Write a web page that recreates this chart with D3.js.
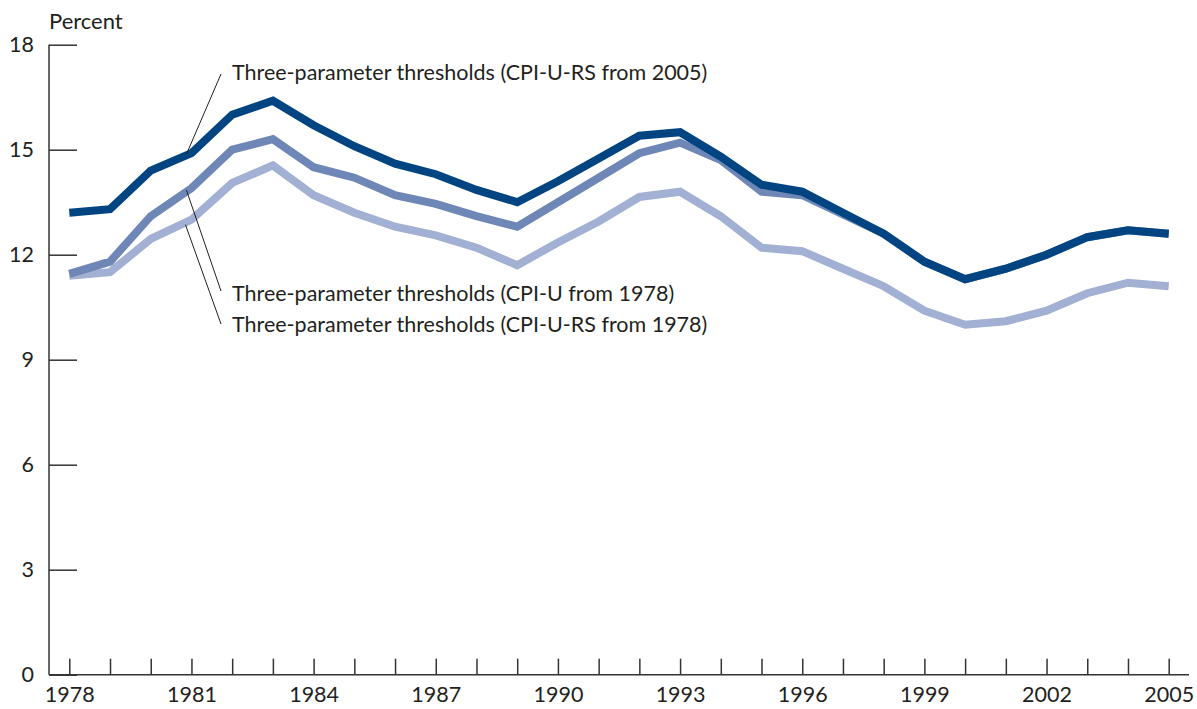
<!DOCTYPE html>
<html>
<head>
<meta charset="utf-8">
<script src="https://cdn.jsdelivr.net/npm/d3@7"></script>
<style>
  html, body { margin: 0; padding: 0; background: #fff; }
  svg { display: block; }
  text { font-family: Lato, "Noto Sans", sans-serif; fill: #231f20; }
</style>
</head>
<body>
<svg id="chart" width="1197" height="709"></svg>
<script>
// ---- Data ----
const years = [1978,1979,1980,1981,1982,1983,1984,1985,1986,1987,1988,1989,1990,1991,1992,1993,1994,1995,1996,1997,1998,1999,2000,2001,2002,2003,2004,2005];
const rsFrom2005 = [13.2,13.3,14.4,14.9,16.0,16.4,15.7,15.1,14.6,14.3,13.85,13.5,14.1,14.75,15.4,15.5,14.8,14.0,13.8,13.2,12.6,11.8,11.3,11.6,12.0,12.5,12.7,12.6];
const uFrom1978 = [11.45,11.8,13.1,13.9,15.0,15.3,14.5,14.2,13.7,13.45,13.1,12.8,13.5,14.2,14.9,15.2,14.7,13.8,13.7,13.15,12.6,11.8,11.3,11.6,12.0,12.5,12.7,12.6];
const rsFrom1978 = [11.4,11.5,12.45,13.0,14.05,14.55,13.7,13.2,12.8,12.55,12.2,11.7,12.35,12.95,13.65,13.8,13.1,12.2,12.1,11.6,11.1,10.4,10.0,10.1,10.4,10.9,11.2,11.1];
const yTicks = [0,3,6,9,12,15,18];
const xLabelYears = [1978,1981,1984,1987,1990,1993,1996,1999,2002,2005];
const seriesNames = [
  "Three-parameter thresholds (CPI-U-RS from 1978)",
  "Three-parameter thresholds (CPI-U from 1978)",
  "Three-parameter thresholds (CPI-U-RS from 2005)"
];
const seriesColors = ["#a2b0d3", "#6f87b6", "#004582"];
const yTitle = "Percent";

// ---- Layout ----
const svg = d3.select("#chart");
const axisX0 = 49, axisX1 = 1189, axisYTop = 44.7, axisYBottom = 674.7;
const x = d3.scaleLinear().domain([1978, 2005]).range([69.3, 1168.7]);
const y = d3.scaleLinear().domain([0, 18]).range([axisYBottom, axisYTop]);
const fontStack = "Lato, 'Noto Sans', sans-serif";

// Axis lines
svg.append("line").attr("x1", axisX0).attr("x2", axisX0).attr("y1", y(18)).attr("y2", y(0))
  .attr("stroke", "#333").attr("stroke-width", 1.5);
svg.append("line").attr("x1", axisX0).attr("x2", axisX1).attr("y1", y(0)).attr("y2", y(0))
  .attr("stroke", "#333").attr("stroke-width", 1.5);

// Y axis
const yAxis = svg.append("g").attr("transform", `translate(${axisX0},0)`)
  .call(d3.axisLeft(y).tickValues(yTicks).tickSize(-28).tickSizeOuter(0).tickPadding(15));
yAxis.select(".domain").remove();
yAxis.selectAll(".tick line").attr("stroke", "#333").attr("stroke-width", 1.5);
yAxis.selectAll(".tick text").attr("font-size", 21.5).attr("fill", "#231f20").style("font-family", fontStack);

// X axis
const xAxis = svg.append("g").attr("transform", `translate(0,${y(0)})`)
  .call(d3.axisBottom(x).tickValues(years).tickSize(-16).tickSizeOuter(0).tickPadding(12)
    .tickFormat(d => xLabelYears.includes(d) ? String(d) : ""));
xAxis.select(".domain").remove();
xAxis.selectAll(".tick line").attr("stroke", "#333").attr("stroke-width", 1.5);
xAxis.selectAll(".tick text").attr("font-size", 21.5).attr("fill", "#231f20").style("font-family", fontStack);

// Y title
svg.append("text").attr("x", axisX0).attr("y", 29).attr("font-size", 22).text(yTitle);

// Lines
const data = [rsFrom1978, uFrom1978, rsFrom2005];
const line = d3.line().x((d, i) => x(years[i])).y(d => y(d));
data.forEach((vals, k) => {
  svg.append("path").datum(vals).attr("d", line)
    .attr("fill", "none").attr("stroke", seriesColors[k]).attr("stroke-width", 8)
    .attr("stroke-linejoin", "miter").attr("stroke-linecap", "butt");
});

// Annotations
const ai = years.indexOf(1981);
const labelX = 232;
const annots = [
  { k: 2, ty: 80,  from: [x(1981) - 5, y(rsFrom2005[ai]) + 1], to: [221, 74] },
  { k: 1, ty: 301, from: [x(1981) - 5, y(uFrom1978[ai]) + 2], to: [221, 291] },
  { k: 0, ty: 332, from: [x(1981) - 6, y(rsFrom1978[ai]) + 5], to: [221, 324] }
];
annots.forEach(a => {
  svg.append("line").attr("x1", a.from[0]).attr("y1", a.from[1]).attr("x2", a.to[0]).attr("y2", a.to[1])
    .attr("stroke", "#231f20").attr("stroke-width", 1);
  svg.append("text").attr("x", labelX).attr("y", a.ty).attr("font-size", 21.5).text(seriesNames[a.k]);
});
</script>
</body>
</html>
